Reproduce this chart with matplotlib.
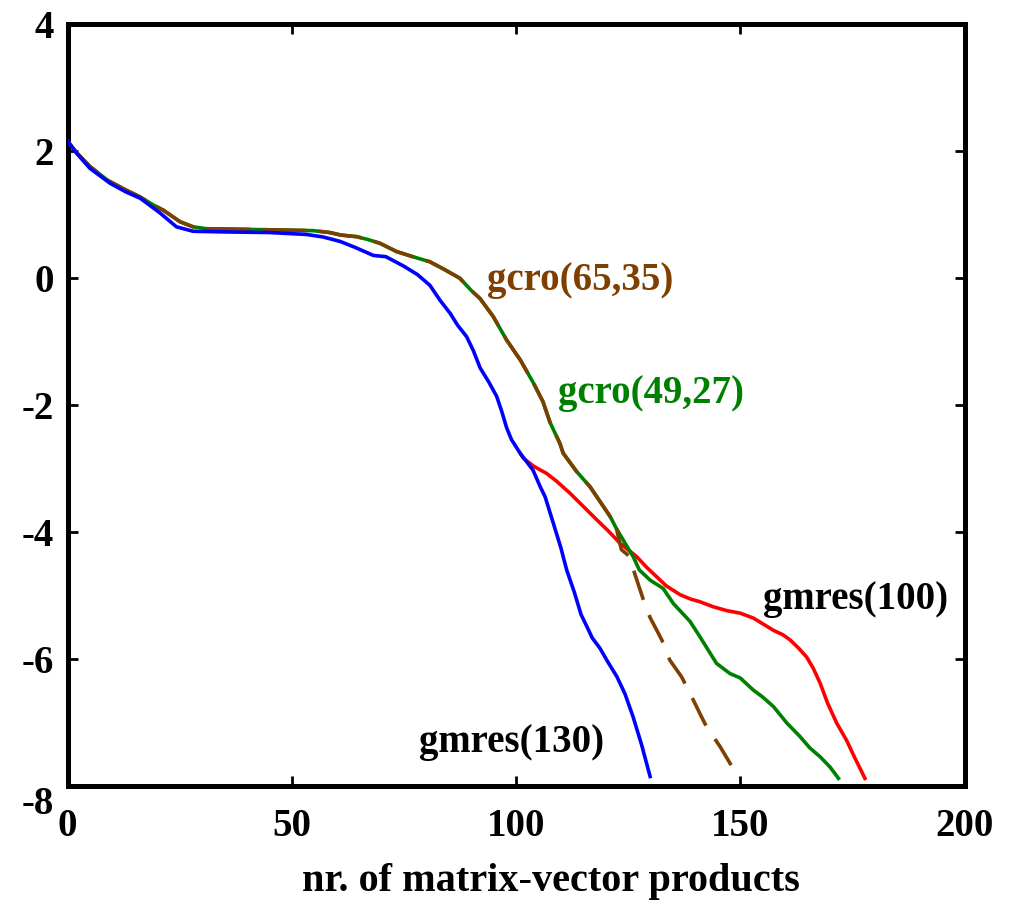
import numpy as np
import matplotlib
matplotlib.use("Agg")
import matplotlib.pyplot as plt

plt.rcParams['font.family'] = ['Liberation Serif', 'DejaVu Serif']
plt.rcParams['font.weight'] = 'bold'
plt.rcParams['axes.unicode_minus'] = False

# ---- data ----
gmres130_x = [0, 2, 5, 9.5, 13, 16.2, 20.6, 24.3, 28, 35, 45, 53.3, 57, 60.8, 64, 68.2, 71, 75, 78,
              80.8, 83, 85.3, 87, 89, 90.5, 92, 94, 95.7, 96.8, 97.9, 99, 100.9, 103.8, 105.4, 106.5,
              108.3, 110, 111.3, 113, 114.5, 115.8, 117, 118.7, 120.5, 122.5, 124.3, 126.1, 128, 129.9]
gmres130_y = [2.15, 1.96, 1.72, 1.485, 1.35, 1.25, 1.02, 0.80, 0.73, 0.72, 0.71, 0.68, 0.64, 0.57, 0.48,
              0.35, 0.33, 0.18, 0.05, -0.12, -0.35, -0.56, -0.75, -0.93, -1.15, -1.42, -1.65, -1.87,
              -2.10, -2.36, -2.55, -2.76, -3.03, -3.29, -3.45, -3.86, -4.25, -4.60, -4.95, -5.30,
              -5.49, -5.67, -5.83, -6.05, -6.28, -6.55, -6.91, -7.35, -7.85]

gmres100_x = [100.9, 101.6, 104, 106.8, 109, 112, 115, 118, 120.5, 123.2, 126.9, 129, 131.4, 133.5,
              136.6, 139, 141, 144, 147, 150, 153, 157.4, 159.5, 161.1, 163, 164.8, 166.3, 167.8,
              169.5, 171.5, 173.7, 175.5, 177.8]
gmres100_y = [-2.76, -2.84, -2.97, -3.08, -3.20, -3.39, -3.60, -3.81, -3.98, -4.18, -4.39, -4.55,
              -4.71, -4.85, -4.99, -5.06, -5.10, -5.18, -5.24, -5.28, -5.36, -5.55, -5.62, -5.70,
              -5.83, -5.97, -6.15, -6.38, -6.70, -7.01, -7.28, -7.55, -7.88]

gcro_common_x = [0, 2, 5, 9, 13, 16.2, 19, 21.4, 25.1, 28, 31, 40, 47.4, 54.8, 58.5, 61, 64.5, 67,
                 69.7, 73.4, 77, 80.8, 84, 87.5, 90, 92, 94.9, 97.9, 101, 103.9, 106, 107.6, 109.8,
                 110.5, 113.5, 116.5, 119, 121, 122.4]
gcro_common_y = [2.15, 1.97, 1.75, 1.53, 1.38, 1.27, 1.15, 1.06, 0.88, 0.80, 0.77, 0.76, 0.75, 0.74,
                 0.71, 0.67, 0.645, 0.60, 0.54, 0.41, 0.33, 0.25, 0.13, -0.01, -0.20, -0.33, -0.61,
                 -0.98, -1.30, -1.66, -1.95, -2.28, -2.61, -2.76, -3.05, -3.29, -3.55, -3.76, -3.95]

gcro49_tail_x = [124.5, 126.2, 127.5, 129.9, 132.8, 135.1, 138.8, 141, 144.7, 147.7, 150, 152.9, 155,
                 157.4, 160.4, 163.3, 165.5, 167.8, 170, 171.9]
gcro49_tail_y = [-4.20, -4.40, -4.60, -4.76, -4.89, -5.13, -5.41, -5.65, -6.07, -6.23, -6.30, -6.49,
                 -6.60, -6.75, -7.01, -7.22, -7.40, -7.54, -7.70, -7.88]

gcro65_tail_x = [123.5, 125.2, 126.2, 128.4, 129.9, 131.4, 132.5, 134.3, 136.9, 138.8, 141, 142.5,
                 145.5, 147.7, 149.6]
gcro65_tail_y = [-4.28, -4.38, -4.60, -5.07, -5.35, -5.55, -5.70, -6.02, -6.28, -6.54, -6.86, -7.07,
                 -7.38, -7.64, -7.88]

x_ticks = [0, 50, 100, 150, 200]
y_ticks = [-8, -6, -4, -2, 0, 2, 4]
x_label = "nr. of matrix-vector products"

labels = {
    "gcro(65,35)": (93.5, -0.04, '#7f3f00'),
    "gcro(49,27)": (109.4, -1.82, '#008000'),
    "gmres(100)": (155.1, -5.07, 'black'),
    "gmres(130)": (78.3, -7.31, 'black'),
}

# ---- figure ----
W, H = 1015, 914
fig = plt.figure(figsize=(W / 100, H / 100), dpi=100)
ax = fig.add_axes([67.5 / W, 1 - 786 / H, (964.5 - 67.5) / W, (786 - 23.5) / H])

lw = 2.6
fs = 28
ax.plot(gmres100_x, gmres100_y, color='#ff0000', lw=lw, zorder=2)
gx = gcro_common_x + gcro49_tail_x
gy = gcro_common_y + gcro49_tail_y
ax.plot(gx, gy, color='#008000', lw=lw, zorder=3)
ax.plot(gcro_common_x, gcro_common_y, color='#7f3f00', lw=lw, dashes=(12, 3.5), zorder=4)
ax.plot(gcro_common_x[-1:] + gcro65_tail_x, gcro_common_y[-1:] + gcro65_tail_y, color='#7f3f00',
        lw=lw, dashes=(8.5, 4.5), zorder=4)
ax.plot(gmres130_x, gmres130_y, color='#0000ff', lw=lw, zorder=5)

for txt, (tx, ty, c) in labels.items():
    ax.text(tx, ty, txt, color=c, fontsize=fs, fontweight='bold', ha='left', va='center')

ax.set_xlim(0, 200)
ax.set_ylim(-8, 4)
ax.set_xticks(x_ticks)
ax.set_xticklabels([str(v) for v in x_ticks])
ax.set_yticks(y_ticks)
ax.set_yticklabels([str(v) for v in y_ticks])
ax.tick_params(axis='both', direction='in', length=7, width=2, labelsize=fs,
               top=True, right=True)
ax.tick_params(axis='x', pad=16)
ax.tick_params(axis='y', pad=10)
for lab in ax.get_xticklabels() + ax.get_yticklabels():
    lab.set_fontweight('bold')
ylabs = ax.get_yticklabels()
ylabs[0].set_va('top')
for s in ax.spines.values():
    s.set_linewidth(3.6)

fig.text(551 / W, 1 - 882 / H, x_label, fontsize=29, fontweight='bold', ha='center', va='center')

fig.savefig('out.png', dpi=100)
